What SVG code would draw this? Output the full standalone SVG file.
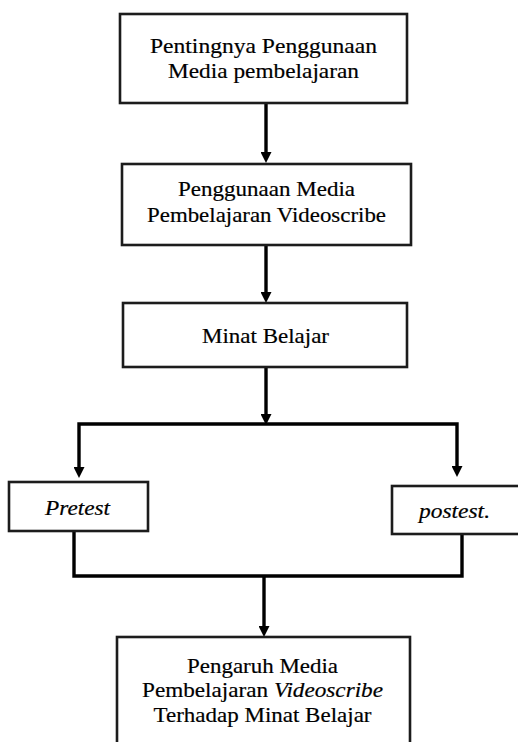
<svg xmlns="http://www.w3.org/2000/svg" width="518" height="742" viewBox="0 0 518 742">
<style>
.box{fill:#fff;stroke:#1c1c1c;stroke-width:2.6}
.t{font-family:'Liberation Serif','DejaVu Serif',serif;font-size:22px;fill:#000;stroke:#000;stroke-width:0.2;text-anchor:middle}
.i{font-style:italic}
.c{fill:none;stroke:#000;stroke-width:3.4;stroke-linejoin:miter}
</style>
<defs>
<marker id="ah" markerUnits="userSpaceOnUse" markerWidth="11" markerHeight="11" refX="5" refY="5.5" orient="auto">
<path d="M0,0 L11,5.5 L0,11 z" fill="#000"/>
</marker>
</defs>
<rect width="518" height="742" fill="#fff"/>
<g id="connectors">
<path class="c" d="M266,103 V157" marker-end="url(#ah)"/>
<path class="c" d="M266,245 V297" marker-end="url(#ah)"/>
<path class="c" d="M266,367 V419" marker-end="url(#ah)"/>
<path class="c" d="M266,424 H79 V472" marker-end="url(#ah)"/>
<path class="c" d="M266,424 H457 V471" marker-end="url(#ah)"/>
<path class="c" d="M74,531 V576 H462 V534"/>
<path class="c" d="M264,576 V631" marker-end="url(#ah)"/>
</g>
<g id="node1">
<rect class="box" x="120" y="14" width="287" height="89"/>
<text class="t" x="263.5" y="53" textLength="227" lengthAdjust="spacingAndGlyphs">Pentingnya Penggunaan</text>
<text class="t" x="263.5" y="78" textLength="191" lengthAdjust="spacingAndGlyphs">Media pembelajaran</text>
</g>
<g id="node2">
<rect class="box" x="122" y="164" width="289" height="81"/>
<text class="t" x="266.5" y="196" textLength="177" lengthAdjust="spacingAndGlyphs">Penggunaan Media</text>
<text class="t" x="266.5" y="222" textLength="239" lengthAdjust="spacingAndGlyphs">Pembelajaran Videoscribe</text>
</g>
<g id="node3">
<rect class="box" x="123" y="303" width="284" height="64"/>
<text class="t" x="265.5" y="343" textLength="127" lengthAdjust="spacingAndGlyphs">Minat Belajar</text>
</g>
<g id="node4">
<rect class="box" x="9" y="482" width="139" height="49"/>
<text class="t i" x="77.5" y="515" textLength="65" lengthAdjust="spacingAndGlyphs">Pretest</text>
</g>
<g id="node5">
<rect class="box" x="392" y="486" width="130" height="48"/>
<text class="t i" x="454.5" y="518" textLength="71" lengthAdjust="spacingAndGlyphs">postest.</text>
</g>
<g id="node6">
<rect class="box" x="117" y="637" width="293" height="120"/>
<text class="t" x="262.5" y="673" textLength="151" lengthAdjust="spacingAndGlyphs">Pengaruh Media</text>
<text class="t" x="262.5" y="697" textLength="241" lengthAdjust="spacingAndGlyphs">Pembelajaran <tspan class="i">Videoscribe</tspan></text>
<text class="t" x="262.5" y="722" textLength="218" lengthAdjust="spacingAndGlyphs">Terhadap Minat Belajar</text>
</g>
</svg>
